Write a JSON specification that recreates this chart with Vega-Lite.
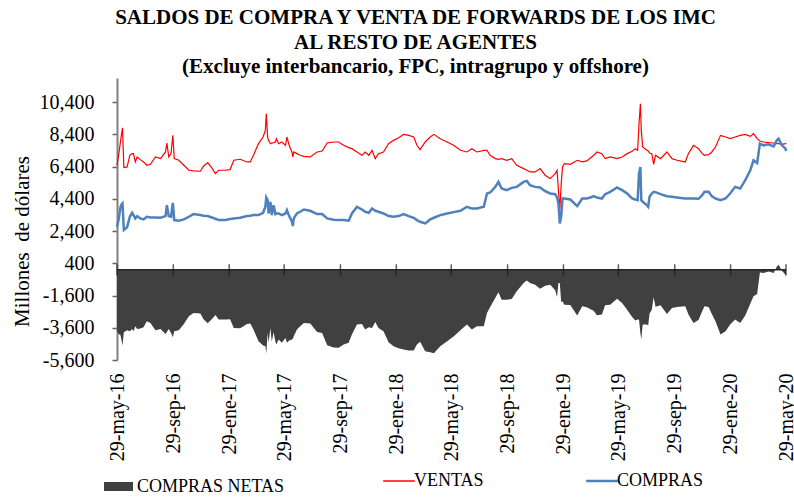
{
 "$schema": "https://vega.github.io/schema/vega-lite/v6.json",
 "width": 669, "height": 282,
 "autosize": "none",
 "padding": {"left": 117, "top": 78, "right": 8, "bottom": 137},
 "background": "white",
 "title": {"text": ["SALDOS DE COMPRA Y VENTA DE FORWARDS DE LOS IMC", "AL RESTO DE AGENTES", "(Excluye interbancario, FPC, intragrupo y offshore)"], "fontSize": 21, "font": "Liberation Serif", "fontWeight": "bold", "color": "black", "lineHeight": 24.5, "anchor": "middle", "dx": -36, "offset": 1},
 "data": {"values": [
  {"d":"2016/05/29","VENTAS":6485,"COMPRAS":2670,"NETAS":-3815},
  {"d":"2016/06/02","VENTAS":7206,"COMPRAS":3185,"NETAS":-4021},
  {"d":"2016/06/05","VENTAS":7825,"COMPRAS":3804,"NETAS":-4021},
  {"d":"2016/06/07","VENTAS":8237,"COMPRAS":4010,"NETAS":-4227},
  {"d":"2016/06/10","VENTAS":8815,"COMPRAS":4113,"NETAS":-4702},
  {"d":"2016/06/13","VENTAS":6340,"COMPRAS":2464,"NETAS":-3876},
  {"d":"2016/06/20","VENTAS":6381,"COMPRAS":2628,"NETAS":-3753},
  {"d":"2016/06/26","VENTAS":7103,"COMPRAS":3288,"NETAS":-3815},
  {"d":"2016/07/01","VENTAS":7206,"COMPRAS":3536,"NETAS":-3670},
  {"d":"2016/07/04","VENTAS":7206,"COMPRAS":3392,"NETAS":-3814},
  {"d":"2016/07/08","VENTAS":6691,"COMPRAS":3185,"NETAS":-3506},
  {"d":"2016/07/12","VENTAS":7000,"COMPRAS":3330,"NETAS":-3670},
  {"d":"2016/07/19","VENTAS":6835,"COMPRAS":3185,"NETAS":-3650},
  {"d":"2016/07/26","VENTAS":6691,"COMPRAS":3124,"NETAS":-3567},
  {"d":"2016/08/02","VENTAS":6485,"COMPRAS":3288,"NETAS":-3197},
  {"d":"2016/08/10","VENTAS":6546,"COMPRAS":3247,"NETAS":-3299},
  {"d":"2016/08/21","VENTAS":7000,"COMPRAS":3247,"NETAS":-3753},
  {"d":"2016/09/01","VENTAS":6897,"COMPRAS":3227,"NETAS":-3670},
  {"d":"2016/09/12","VENTAS":7310,"COMPRAS":3330,"NETAS":-3980},
  {"d":"2016/09/15","VENTAS":7866,"COMPRAS":4010,"NETAS":-3856},
  {"d":"2016/09/19","VENTAS":7000,"COMPRAS":3330,"NETAS":-3670},
  {"d":"2016/09/24","VENTAS":7206,"COMPRAS":3288,"NETAS":-3918},
  {"d":"2016/09/28","VENTAS":8340,"COMPRAS":4154,"NETAS":-4186},
  {"d":"2016/10/01","VENTAS":6897,"COMPRAS":3082,"NETAS":-3815},
  {"d":"2016/10/11","VENTAS":6794,"COMPRAS":3041,"NETAS":-3753},
  {"d":"2016/10/22","VENTAS":6485,"COMPRAS":3124,"NETAS":-3361},
  {"d":"2016/11/02","VENTAS":6175,"COMPRAS":3288,"NETAS":-2887},
  {"d":"2016/11/12","VENTAS":6134,"COMPRAS":3454,"NETAS":-2680},
  {"d":"2016/11/27","VENTAS":6113,"COMPRAS":3392,"NETAS":-2721},
  {"d":"2016/12/04","VENTAS":6423,"COMPRAS":3350,"NETAS":-3073},
  {"d":"2016/12/13","VENTAS":6650,"COMPRAS":3330,"NETAS":-3320},
  {"d":"2016/12/22","VENTAS":6320,"COMPRAS":3247,"NETAS":-3073},
  {"d":"2016/12/30","VENTAS":5969,"COMPRAS":3165,"NETAS":-2804},
  {"d":"2017/01/06","VENTAS":6175,"COMPRAS":3082,"NETAS":-3093},
  {"d":"2017/01/21","VENTAS":6175,"COMPRAS":3082,"NETAS":-3093},
  {"d":"2017/01/31","VENTAS":6216,"COMPRAS":3144,"NETAS":-3072},
  {"d":"2017/02/08","VENTAS":6794,"COMPRAS":3185,"NETAS":-3609},
  {"d":"2017/02/22","VENTAS":6856,"COMPRAS":3227,"NETAS":-3629},
  {"d":"2017/03/09","VENTAS":6691,"COMPRAS":3330,"NETAS":-3361},
  {"d":"2017/03/16","VENTAS":6691,"COMPRAS":3350,"NETAS":-3341},
  {"d":"2017/03/23","VENTAS":7103,"COMPRAS":3392,"NETAS":-3711},
  {"d":"2017/04/03","VENTAS":7825,"COMPRAS":3392,"NETAS":-4433},
  {"d":"2017/04/13","VENTAS":8237,"COMPRAS":3536,"NETAS":-4701},
  {"d":"2017/04/18","VENTAS":8650,"COMPRAS":3907,"NETAS":-4743},
  {"d":"2017/04/20","VENTAS":9681,"COMPRAS":4484,"NETAS":-5197},
  {"d":"2017/04/23","VENTAS":8237,"COMPRAS":4319,"NETAS":-3918},
  {"d":"2017/04/25","VENTAS":8031,"COMPRAS":3495,"NETAS":-4536},
  {"d":"2017/04/29","VENTAS":7825,"COMPRAS":4216,"NETAS":-3609},
  {"d":"2017/05/02","VENTAS":7866,"COMPRAS":3392,"NETAS":-4474},
  {"d":"2017/05/06","VENTAS":7887,"COMPRAS":4010,"NETAS":-3877},
  {"d":"2017/05/10","VENTAS":7928,"COMPRAS":3454,"NETAS":-4474},
  {"d":"2017/05/12","VENTAS":8134,"COMPRAS":3495,"NETAS":-4639},
  {"d":"2017/05/17","VENTAS":7825,"COMPRAS":3495,"NETAS":-4330},
  {"d":"2017/05/24","VENTAS":7928,"COMPRAS":3392,"NETAS":-4536},
  {"d":"2017/06/01","VENTAS":7722,"COMPRAS":3495,"NETAS":-4227},
  {"d":"2017/06/04","VENTAS":8237,"COMPRAS":3701,"NETAS":-4536},
  {"d":"2017/06/09","VENTAS":7722,"COMPRAS":3330,"NETAS":-4392},
  {"d":"2017/06/15","VENTAS":7310,"COMPRAS":2979,"NETAS":-4331},
  {"d":"2017/06/17","VENTAS":7000,"COMPRAS":2711,"NETAS":-4289},
  {"d":"2017/06/19","VENTAS":7310,"COMPRAS":3185,"NETAS":-4125},
  {"d":"2017/06/26","VENTAS":7206,"COMPRAS":3495,"NETAS":-3711},
  {"d":"2017/07/03","VENTAS":7103,"COMPRAS":3598,"NETAS":-3505},
  {"d":"2017/07/11","VENTAS":7041,"COMPRAS":3742,"NETAS":-3299},
  {"d":"2017/07/25","VENTAS":7000,"COMPRAS":3660,"NETAS":-3340},
  {"d":"2017/08/09","VENTAS":7310,"COMPRAS":3454,"NETAS":-3856},
  {"d":"2017/08/20","VENTAS":7371,"COMPRAS":3454,"NETAS":-3917},
  {"d":"2017/08/31","VENTAS":7866,"COMPRAS":3185,"NETAS":-4681},
  {"d":"2017/09/14","VENTAS":7928,"COMPRAS":3103,"NETAS":-4825},
  {"d":"2017/09/25","VENTAS":7928,"COMPRAS":3082,"NETAS":-4846},
  {"d":"2017/10/06","VENTAS":7722,"COMPRAS":3082,"NETAS":-4640},
  {"d":"2017/10/17","VENTAS":7577,"COMPRAS":3041,"NETAS":-4536},
  {"d":"2017/10/24","VENTAS":7516,"COMPRAS":3495,"NETAS":-4021},
  {"d":"2017/11/04","VENTAS":7310,"COMPRAS":3907,"NETAS":-3403},
  {"d":"2017/11/15","VENTAS":7103,"COMPRAS":3742,"NETAS":-3361},
  {"d":"2017/11/22","VENTAS":7310,"COMPRAS":3598,"NETAS":-3712},
  {"d":"2017/11/30","VENTAS":7103,"COMPRAS":3536,"NETAS":-3567},
  {"d":"2017/12/07","VENTAS":7412,"COMPRAS":3804,"NETAS":-3608},
  {"d":"2017/12/14","VENTAS":6897,"COMPRAS":3660,"NETAS":-3237},
  {"d":"2017/12/21","VENTAS":7206,"COMPRAS":3598,"NETAS":-3608},
  {"d":"2018/01/01","VENTAS":7310,"COMPRAS":3495,"NETAS":-3815},
  {"d":"2018/01/12","VENTAS":7825,"COMPRAS":3330,"NETAS":-4495},
  {"d":"2018/01/23","VENTAS":8031,"COMPRAS":3288,"NETAS":-4743},
  {"d":"2018/02/03","VENTAS":8196,"COMPRAS":3330,"NETAS":-4866},
  {"d":"2018/02/14","VENTAS":8402,"COMPRAS":3454,"NETAS":-4948},
  {"d":"2018/02/25","VENTAS":8340,"COMPRAS":3330,"NETAS":-5010},
  {"d":"2018/03/08","VENTAS":8237,"COMPRAS":3227,"NETAS":-5010},
  {"d":"2018/03/15","VENTAS":7722,"COMPRAS":3082,"NETAS":-4640},
  {"d":"2018/03/22","VENTAS":7454,"COMPRAS":2979,"NETAS":-4475},
  {"d":"2018/04/02","VENTAS":7928,"COMPRAS":2876,"NETAS":-5052},
  {"d":"2018/04/13","VENTAS":8237,"COMPRAS":3124,"NETAS":-5113},
  {"d":"2018/04/21","VENTAS":8402,"COMPRAS":3227,"NETAS":-5175},
  {"d":"2018/05/05","VENTAS":8134,"COMPRAS":3392,"NETAS":-4742},
  {"d":"2018/05/20","VENTAS":7928,"COMPRAS":3495,"NETAS":-4433},
  {"d":"2018/06/03","VENTAS":7722,"COMPRAS":3577,"NETAS":-4145},
  {"d":"2018/06/18","VENTAS":7412,"COMPRAS":3660,"NETAS":-3752},
  {"d":"2018/07/02","VENTAS":7310,"COMPRAS":3907,"NETAS":-3403},
  {"d":"2018/07/13","VENTAS":7516,"COMPRAS":3804,"NETAS":-3712},
  {"d":"2018/07/24","VENTAS":7310,"COMPRAS":3804,"NETAS":-3506},
  {"d":"2018/08/08","VENTAS":7412,"COMPRAS":3907,"NETAS":-3505},
  {"d":"2018/08/15","VENTAS":7412,"COMPRAS":4732,"NETAS":-2680},
  {"d":"2018/08/22","VENTAS":7103,"COMPRAS":4794,"NETAS":-2309},
  {"d":"2018/09/02","VENTAS":6897,"COMPRAS":5144,"NETAS":-1753},
  {"d":"2018/09/09","VENTAS":6856,"COMPRAS":5454,"NETAS":-1402},
  {"d":"2018/09/16","VENTAS":6897,"COMPRAS":5041,"NETAS":-1856},
  {"d":"2018/09/27","VENTAS":6794,"COMPRAS":4938,"NETAS":-1856},
  {"d":"2018/10/08","VENTAS":6897,"COMPRAS":5082,"NETAS":-1815},
  {"d":"2018/10/19","VENTAS":6485,"COMPRAS":5144,"NETAS":-1341},
  {"d":"2018/11/03","VENTAS":6278,"COMPRAS":5454,"NETAS":-824},
  {"d":"2018/11/10","VENTAS":6175,"COMPRAS":5515,"NETAS":-660},
  {"d":"2018/11/17","VENTAS":6072,"COMPRAS":5247,"NETAS":-825},
  {"d":"2018/11/28","VENTAS":6072,"COMPRAS":5144,"NETAS":-928},
  {"d":"2018/12/09","VENTAS":6278,"COMPRAS":5103,"NETAS":-1175},
  {"d":"2018/12/20","VENTAS":5866,"COMPRAS":4876,"NETAS":-990},
  {"d":"2018/12/31","VENTAS":5660,"COMPRAS":4732,"NETAS":-928},
  {"d":"2019/01/11","VENTAS":5969,"COMPRAS":4691,"NETAS":-1278},
  {"d":"2019/01/15","VENTAS":6175,"COMPRAS":4484,"NETAS":-1691},
  {"d":"2019/01/18","VENTAS":4938,"COMPRAS":4113,"NETAS":-825},
  {"d":"2019/01/21","VENTAS":3701,"COMPRAS":2876,"NETAS":-825},
  {"d":"2019/01/24","VENTAS":5300,"COMPRAS":3300,"NETAS":-2000},
  {"d":"2019/01/27","VENTAS":6381,"COMPRAS":4422,"NETAS":-1959},
  {"d":"2019/01/31","VENTAS":6588,"COMPRAS":4422,"NETAS":-2166},
  {"d":"2019/02/13","VENTAS":6546,"COMPRAS":4361,"NETAS":-2185},
  {"d":"2019/02/28","VENTAS":6794,"COMPRAS":3948,"NETAS":-2846},
  {"d":"2019/03/11","VENTAS":6691,"COMPRAS":4422,"NETAS":-2269},
  {"d":"2019/03/21","VENTAS":6753,"COMPRAS":4422,"NETAS":-2331},
  {"d":"2019/03/29","VENTAS":6938,"COMPRAS":4484,"NETAS":-2454},
  {"d":"2019/04/05","VENTAS":7103,"COMPRAS":4567,"NETAS":-2536},
  {"d":"2019/04/12","VENTAS":7310,"COMPRAS":4484,"NETAS":-2826},
  {"d":"2019/04/23","VENTAS":7206,"COMPRAS":4422,"NETAS":-2784},
  {"d":"2019/04/30","VENTAS":6897,"COMPRAS":4691,"NETAS":-2206},
  {"d":"2019/05/11","VENTAS":7000,"COMPRAS":4835,"NETAS":-2165},
  {"d":"2019/05/26","VENTAS":6897,"COMPRAS":5103,"NETAS":-1794},
  {"d":"2019/06/06","VENTAS":7000,"COMPRAS":4938,"NETAS":-2062},
  {"d":"2019/06/17","VENTAS":7206,"COMPRAS":4732,"NETAS":-2474},
  {"d":"2019/06/28","VENTAS":7351,"COMPRAS":4422,"NETAS":-2929},
  {"d":"2019/07/05","VENTAS":7516,"COMPRAS":4361,"NETAS":-3155},
  {"d":"2019/07/10","VENTAS":7412,"COMPRAS":4319,"NETAS":-3093},
  {"d":"2019/07/13","VENTAS":9062,"COMPRAS":5969,"NETAS":-3093},
  {"d":"2019/07/16","VENTAS":10299,"COMPRAS":6381,"NETAS":-3918},
  {"d":"2019/07/18","VENTAS":8650,"COMPRAS":4319,"NETAS":-4331},
  {"d":"2019/07/21","VENTAS":7619,"COMPRAS":4216,"NETAS":-3403},
  {"d":"2019/07/30","VENTAS":7412,"COMPRAS":4010,"NETAS":-3402},
  {"d":"2019/08/02","VENTAS":7371,"COMPRAS":3907,"NETAS":-3464},
  {"d":"2019/08/05","VENTAS":7247,"COMPRAS":4526,"NETAS":-2721},
  {"d":"2019/08/10","VENTAS":7206,"COMPRAS":4732,"NETAS":-2474},
  {"d":"2019/08/14","VENTAS":6546,"COMPRAS":4835,"NETAS":-1711},
  {"d":"2019/08/18","VENTAS":7103,"COMPRAS":4814,"NETAS":-2289},
  {"d":"2019/08/29","VENTAS":6897,"COMPRAS":4691,"NETAS":-2206},
  {"d":"2019/09/12","VENTAS":7310,"COMPRAS":4567,"NETAS":-2743},
  {"d":"2019/09/23","VENTAS":6897,"COMPRAS":4526,"NETAS":-2371},
  {"d":"2019/10/04","VENTAS":6794,"COMPRAS":4484,"NETAS":-2310},
  {"d":"2019/10/22","VENTAS":6691,"COMPRAS":4422,"NETAS":-2269},
  {"d":"2019/10/29","VENTAS":7206,"COMPRAS":4422,"NETAS":-2784},
  {"d":"2019/11/09","VENTAS":7722,"COMPRAS":4422,"NETAS":-3300},
  {"d":"2019/11/20","VENTAS":7516,"COMPRAS":4402,"NETAS":-3114},
  {"d":"2019/11/28","VENTAS":7206,"COMPRAS":4629,"NETAS":-2577},
  {"d":"2019/12/03","VENTAS":7103,"COMPRAS":4835,"NETAS":-2268},
  {"d":"2019/12/12","VENTAS":7144,"COMPRAS":4835,"NETAS":-2309},
  {"d":"2019/12/19","VENTAS":7310,"COMPRAS":4567,"NETAS":-2743},
  {"d":"2019/12/27","VENTAS":7619,"COMPRAS":4422,"NETAS":-3197},
  {"d":"2020/01/07","VENTAS":8340,"COMPRAS":4319,"NETAS":-4021},
  {"d":"2020/01/18","VENTAS":8237,"COMPRAS":4422,"NETAS":-3815},
  {"d":"2020/01/28","VENTAS":8134,"COMPRAS":4732,"NETAS":-3402},
  {"d":"2020/02/08","VENTAS":8237,"COMPRAS":5144,"NETAS":-3093},
  {"d":"2020/02/19","VENTAS":8340,"COMPRAS":5041,"NETAS":-3299},
  {"d":"2020/03/01","VENTAS":8402,"COMPRAS":5557,"NETAS":-2845},
  {"d":"2020/03/12","VENTAS":8278,"COMPRAS":6175,"NETAS":-2103},
  {"d":"2020/03/19","VENTAS":8443,"COMPRAS":6794,"NETAS":-1649},
  {"d":"2020/03/27","VENTAS":8134,"COMPRAS":6629,"NETAS":-1505},
  {"d":"2020/04/02","VENTAS":7990,"COMPRAS":7825,"NETAS":-165},
  {"d":"2020/04/10","VENTAS":7928,"COMPRAS":7722,"NETAS":-206},
  {"d":"2020/04/21","VENTAS":7887,"COMPRAS":7784,"NETAS":-103},
  {"d":"2020/05/02","VENTAS":7866,"COMPRAS":7660,"NETAS":-206},
  {"d":"2020/05/09","VENTAS":7825,"COMPRAS":8031,"NETAS":206},
  {"d":"2020/05/13","VENTAS":7825,"COMPRAS":8134,"NETAS":309},
  {"d":"2020/05/20","VENTAS":7784,"COMPRAS":7722,"NETAS":-62},
  {"d":"2020/05/28","VENTAS":7825,"COMPRAS":7516,"NETAS":-309},
  {"d":"2020/05/29","VENTAS":7866,"COMPRAS":7371,"NETAS":-495}
 ]},
 "layer": [
  {
   "mark": {"type": "area"},
   "encoding": {
    "x": {"field": "d", "type": "temporal",
     "scale": {"domain": [{"year": 2016, "month": 5, "date": 29}, {"year": 2020, "month": 5, "date": 29}], "nice": false},
     "axis": {"title": null, "orient": "bottom", "domain": false, "ticks": false, "grid": false, "tickCount": 30,
      "values": [{"year":2016,"month":5,"date":29},{"year":2016,"month":9,"date":29},{"year":2017,"month":1,"date":29},{"year":2017,"month":5,"date":29},{"year":2017,"month":9,"date":29},{"year":2018,"month":1,"date":29},{"year":2018,"month":5,"date":29},{"year":2018,"month":9,"date":29},{"year":2019,"month":1,"date":29},{"year":2019,"month":5,"date":29},{"year":2019,"month":9,"date":29},{"year":2020,"month":1,"date":29},{"year":2020,"month":5,"date":29}],
      "labelExpr": "'29-' + ['ene','feb','mar','abr','may','jun','jul','ago','sep','oct','nov','dic'][month(datum.value)] + '-' + timeFormat(datum.value, '%y')",
      "labelAngle": -90, "labelAlign": "right", "labelBaseline": "middle", "labelPadding": 13, "labelFlush": false, "labelOverlap": false,
      "labelFont": "Liberation Serif", "labelFontSize": 20, "labelColor": "black"}},
    "y": {"field": "NETAS", "type": "quantitative",
     "scale": {"domain": [-5600, 11900], "nice": false, "zero": false},
     "axis": {"values": [-5600, -3600, -1600, 400, 2400, 4400, 6400, 8400, 10400], "tickCount": 30,
      "labelExpr": "(datum.value < 0 ? '-' : '') + format(abs(datum.value), ',')",
      "labelOverlap": false,
      "grid": false, "domainColor": "#808080", "domainWidth": 2, "tickColor": "#606060", "tickWidth": 1.5, "tickSize": 5,
      "labelPadding": 18, "labelFont": "Liberation Serif", "labelFontSize": 20, "labelColor": "black",
      "title": "Millones \u00a0de dólares", "titleFont": "Liberation Serif", "titleFontSize": 21, "titleFontWeight": "normal", "titleColor": "black",
      "titleAngle": -90, "titleX": -95, "titleY": 163, "titleAlign": "center", "titleBaseline": "middle"}},
    "y2": {"datum": 0},
    "fill": {"datum": "COMPRAS NETAS", "type": "nominal", "scale": {"range": ["#404040"]},
     "legend": {"orient": "none", "legendX": -13, "legendY": 394, "title": null, "symbolType": "M-1,-0.31H1V0.31H-1Z", "symbolSize": 841, "symbolStrokeWidth": 0, "labelFont": "Liberation Serif", "labelFontSize": 18, "labelColor": "black", "labelOffset": 4}}
   }
  },
  {
   "transform": [{"fold": ["VENTAS", "COMPRAS"], "as": ["serie", "valor"]}],
   "mark": {"type": "line"},
   "encoding": {
    "x": {"field": "d", "type": "temporal"},
    "y": {"field": "valor", "type": "quantitative"},
    "stroke": {"field": "serie", "type": "nominal", "scale": {"domain": ["VENTAS", "COMPRAS"], "range": ["#FF0000", "#4F81BD"]},
     "legend": {"orient": "none", "legendX": 273, "legendY": 394, "direction": "horizontal", "title": null, "symbolType": "stroke", "symbolSize": 1000, "columnPadding": 97, "labelFont": "Liberation Serif", "labelFontSize": 18, "labelColor": "black", "labelOffset": 6,
      "encode": {"symbols": {"update": {"strokeWidth": {"signal": "datum.value === 'COMPRAS' ? 2.5 : 1.5"}}}}}},
    "strokeWidth": {"condition": {"test": "datum.serie === 'COMPRAS'", "value": 2.5}, "value": 1.2}
   }
  },
  {
   "data": {"values": [{}]},
   "mark": {"type": "rule", "color": "#262626", "strokeWidth": 1.5},
   "encoding": {"y": {"datum": 0}}
  },
  {
   "data": {"values": [{"t":"2016/05/29"},{"t":"2016/09/29"},{"t":"2017/01/29"},{"t":"2017/05/29"},{"t":"2017/09/29"},{"t":"2018/01/29"},{"t":"2018/05/29"},{"t":"2018/09/29"},{"t":"2019/01/29"},{"t":"2019/05/29"},{"t":"2019/09/29"},{"t":"2020/01/29"},{"t":"2020/05/29"}]},
   "mark": {"type": "tick", "orient": "vertical", "size": 11, "thickness": 1.5, "color": "#1a1a1a"},
   "encoding": {"x": {"field": "t", "type": "temporal"}, "y": {"datum": 0}}
  }
 ],
 "config": {"view": {"stroke": null}, "font": "Liberation Serif"}
}
